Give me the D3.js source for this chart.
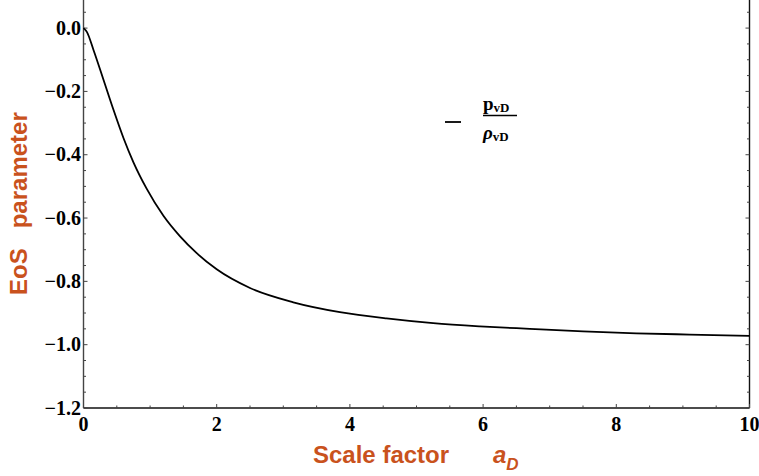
<!DOCTYPE html>
<html><head><meta charset="utf-8">
<script src="https://cdn.jsdelivr.net/npm/d3@7"></script>
<style>body{margin:0;background:#fff}svg{display:block}</style>
</head><body>
<svg id="c" width="759" height="476"></svg>
<script>
// Data
const scaleFactor = [0, 0.05, 0.15, 0.3, 0.45, 0.6, 0.75, 0.95, 1.2, 1.45, 1.7, 2.0, 2.5, 3.15, 3.85, 4.55, 5.25, 5.95, 6.7, 7.5, 8.3, 9.1, 10];
const eosValues   = [0, -0.012, -0.069, -0.163, -0.258, -0.347, -0.424, -0.508, -0.593, -0.658, -0.711, -0.762, -0.821, -0.866, -0.897, -0.917, -0.932, -0.942, -0.950, -0.958, -0.964, -0.968, -0.972];
const xTicks = [0, 2, 4, 6, 8, 10];
const yTicks = [0.0, -0.2, -0.4, -0.6, -0.8, -1.0, -1.2];
const xTitle = "Scale factor";
const yTitleA = "EoS", yTitleB = "parameter";

const svg = d3.select("#c");
const L = 83.5, R = 749.5, B = 408, T = -0.4;
const x = d3.scaleLinear().domain([0, 10]).range([L, R]);
const y = d3.scaleLinear().domain([-1.2, 0.09]).range([B, T]);
const orange = "#c9521d";
const axisCol = "#444";

// frame
svg.append("line").attr("x1", L).attr("x2", L).attr("y1", 0).attr("y2", B).attr("stroke", axisCol).attr("stroke-width", 1.4);
svg.append("line").attr("x1", R).attr("x2", R).attr("y1", 0).attr("y2", B).attr("stroke", "#111").attr("stroke-width", 1.4);
svg.append("line").attr("x1", L).attr("x2", R).attr("y1", B).attr("y2", B).attr("stroke", "#111").attr("stroke-width", 1.4);

// ticks
const xMinor = d3.range(0, 10.01, 0.5);
const yMinor = d3.range(-1.2, 0.1, 0.05);
xMinor.forEach(v => {
  const major = Math.abs(v - Math.round(v / 2) * 2) < 1e-6;
  const len = major ? 4 : 2.5;
  svg.append("line").attr("x1", x(v)).attr("x2", x(v)).attr("y1", B).attr("y2", B - len).attr("stroke", axisCol).attr("stroke-width", 1);
});
yMinor.forEach(v => {
  const major = Math.abs(v * 5 - Math.round(v * 5)) < 1e-6;
  const len = major ? 4 : 2.5;
  svg.append("line").attr("x1", L).attr("x2", L + len).attr("y1", y(v)).attr("y2", y(v)).attr("stroke", axisCol).attr("stroke-width", 1);
  svg.append("line").attr("x1", R).attr("x2", R - len).attr("y1", y(v)).attr("y2", y(v)).attr("stroke", axisCol).attr("stroke-width", 1);
});

// tick labels
const tickFont = "'Liberation Serif', 'Times New Roman', serif";
svg.selectAll(".xl").data(xTicks).enter().append("text")
  .attr("x", d => x(d)).attr("y", 431).attr("text-anchor", "middle")
  .attr("font-family", tickFont).attr("font-weight", "bold").attr("font-size", 20)
  .text(d => d);
svg.selectAll(".yl").data(yTicks).enter().append("text")
  .attr("x", 81).attr("y", d => y(d) + 6.5).attr("text-anchor", "end")
  .attr("font-family", tickFont).attr("font-weight", "bold").attr("font-size", 20)
  .text(d => (d < 0 ? "\u2212" : "") + Math.abs(d).toFixed(1));

// curve
const line = d3.line().x((d, i) => x(scaleFactor[i])).y(d => y(d)).curve(d3.curveMonotoneX);
svg.append("path").datum(eosValues).attr("d", line).attr("fill", "none").attr("stroke", "#000").attr("stroke-width", 1.8);

// axis titles
const sans = "'Liberation Sans', Arial, sans-serif";
const xt = svg.append("text").attr("y", 463).attr("font-family", sans).attr("font-weight", "bold").attr("font-size", 24).attr("fill", orange);
xt.append("tspan").attr("x", 313).text(xTitle);
const at = svg.append("text").attr("x", 493).attr("y", 463).attr("font-family", sans).attr("font-weight", "bold").attr("font-style", "italic").attr("font-size", 24).attr("fill", orange);
at.append("tspan").text("a");
at.append("tspan").attr("dy", 7).attr("font-size", 17).text("D");

const yt = svg.append("text").attr("transform", "translate(27,295) rotate(-90)")
  .attr("font-family", sans).attr("font-weight", "bold").attr("font-size", 24).attr("fill", orange);
yt.append("tspan").attr("x", 0).text(yTitleA);
yt.append("tspan").attr("dx", 20).text(yTitleB);

// legend
svg.append("line").attr("x1", 445).attr("x2", 461).attr("y1", 122).attr("y2", 122).attr("stroke", "#000").attr("stroke-width", 1.8);
const num = svg.append("text").attr("x", 483).attr("y", 110).attr("font-family", tickFont).attr("font-weight", "bold").attr("font-size", 19);
num.append("tspan").text("p");
num.append("tspan").attr("font-size", 13).attr("dy", 2).text("vD");
svg.append("line").attr("x1", 483).attr("x2", 517).attr("y1", 115.5).attr("y2", 115.5).attr("stroke", "#000").attr("stroke-width", 1.6);
const den = svg.append("text").attr("x", 483).attr("y", 139).attr("font-family", tickFont).attr("font-weight", "bold").attr("font-size", 19);
den.append("tspan").attr("font-style", "italic").text("ρ");
den.append("tspan").attr("font-size", 13).attr("dy", 2).text("vD");
</script>
</body></html>
